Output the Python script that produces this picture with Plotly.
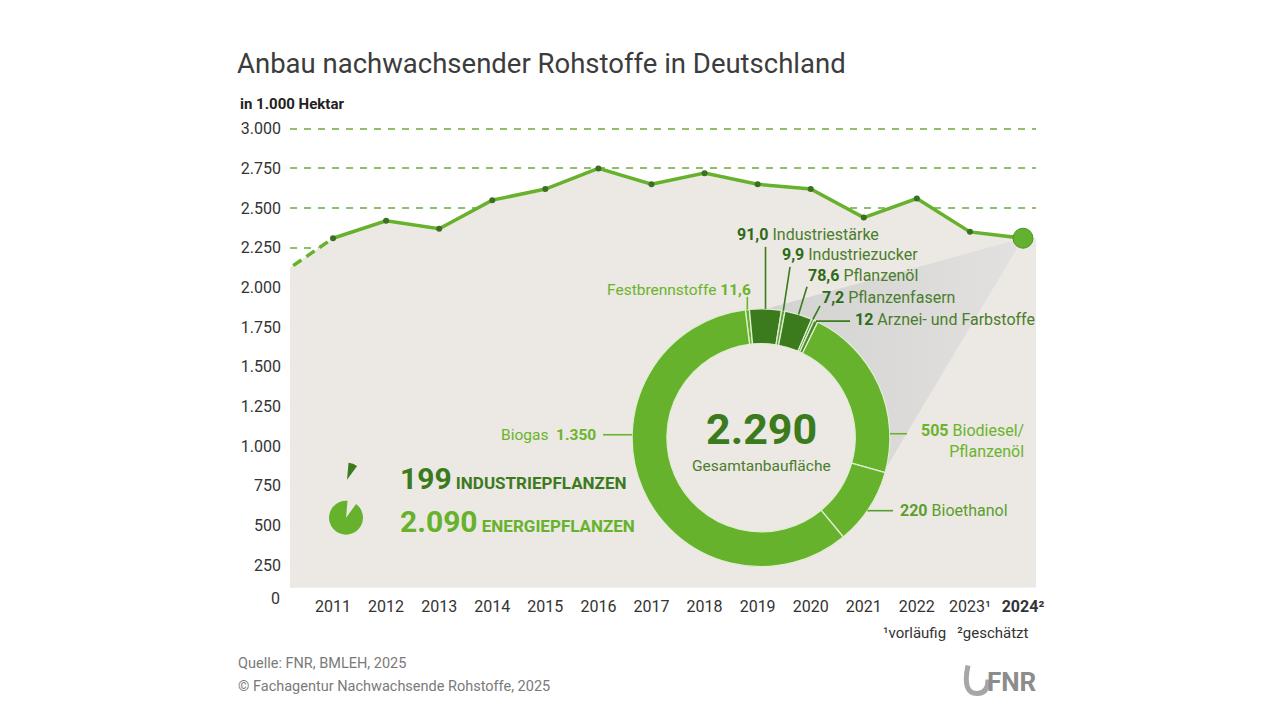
import numpy as np
import plotly.graph_objects as go

W, H = 1280, 720

# ---------------- data ----------------
years = [2010, 2011, 2012, 2013, 2014, 2015, 2016, 2017, 2018, 2019, 2020, 2021, 2022, 2023, 2024]
area = [2080, 2310, 2420, 2370, 2550, 2620, 2750, 2650, 2720, 2650, 2620, 2440, 2560, 2350, 2310]
year_labels = ["2011", "2012", "2013", "2014", "2015", "2016", "2017", "2018", "2019",
               "2020", "2021", "2022", "2023¹", "<b>2024²</b>"]
y_ticks = [250, 500, 750, 1000, 1250, 1500, 1750, 2000, 2250, 2500, 2750, 3000]
y_tick_labels = ["250", "500", "750", "1.000", "1.250", "1.500", "1.750", "2.000",
                 "2.250", "2.500", "2.750", "3.000"]

seg_names = ["Festbrennstoffe", "Industriestärke", "Industriezucker", "Pflanzenöl",
             "Pflanzenfasern", "Arznei- und Farbstoffe", "Biodiesel/Pflanzenöl",
             "Bioethanol", "Biogas"]
seg_values = [11.6, 91.0, 9.9, 78.6, 7.2, 12, 505, 220, 1350]
seg_value_labels = ["11,6", "91,0", "9,9", "78,6", "7,2", "12", "505", "220", "1.350"]
total_label = "2.290"
group_names = ["INDUSTRIEPFLANZEN", "ENERGIEPFLANZEN"]
group_values = [199, 2090]
group_value_labels = ["199", "2.090"]

# ---------------- style ----------------
FONT = "Roboto, 'Liberation Sans', sans-serif"
GREEN = "#66b22c"
LGREEN_TXT = "#6ab42d"
DGREEN = "#3b7a1d"
DGREEN_TXT = "#4a7d2c"
TAN = "#ece8e3"

# screen placement of the figure (empirical: page margin + capture scale)
S = 1280 / 1288
OX, OY, CY_OFF = 8, 8, 4

# plot area in screen pixels
PX_L, PX_R, PX_T, PX_B = 290, 1036, 123, 587
X_RANGE = [2010.19, 2024.245]
Y_RANGE = [108, 3030]


def px2x(px):
    return (px / S - OX) / W


def py2y(py):
    return 1 - ((py - CY_OFF) / S - OY) / H


def data_to_px(xv, yv):
    xp = PX_L + (xv - X_RANGE[0]) / (X_RANGE[1] - X_RANGE[0]) * (PX_R - PX_L)
    yp = PX_B - (yv - Y_RANGE[0]) / (Y_RANGE[1] - Y_RANGE[0]) * (PX_B - PX_T)
    return xp, yp


def px_to_data(xp, yp):
    xv = X_RANGE[0] + (xp - PX_L) / (PX_R - PX_L) * (X_RANGE[1] - X_RANGE[0])
    yv = Y_RANGE[0] + (PX_B - yp) / (PX_B - PX_T) * (Y_RANGE[1] - Y_RANGE[0])
    return xv, yv


# donut geometry (screen pixels)
CX, CY, R = 761, 437, 129
HOLE = 0.73
ROT = -7

fig = go.Figure()

# tan area
fig.add_trace(go.Scatter(x=years, y=area, mode="none", fill="tozeroy",
                         fillcolor=TAN, hoverinfo="skip", showlegend=False))

# grey cone from last point to donut
P = np.array(data_to_px(years[-1], area[-1]))
C = np.array([CX, CY])
rc = R - 6
d = P - C
dist = np.hypot(*d)
base = np.arctan2(d[1], d[0])
alpha = np.arccos(rc / dist)
angs = np.linspace(base - alpha, base + alpha, 40)
poly_px = [P] + [C + rc * np.array([np.cos(a), np.sin(a)]) for a in angs] + [P]
cone_x, cone_y = zip(*[px_to_data(p[0], p[1]) for p in poly_px])
fig.add_trace(go.Scatter(x=list(cone_x), y=list(cone_y), mode="none", fill="toself",
                         fillgradient=dict(type="horizontal",
                                           colorscale=[[0, "#d0d0d0"], [1, "#e2e1df"]]),
                         hoverinfo="skip", showlegend=False))

# dashed lead-in segment
fig.add_trace(go.Scatter(x=years[:2], y=area[:2], mode="lines",
                         line=dict(color=GREEN, width=3.5, dash="10px,6px"),
                         hoverinfo="skip", showlegend=False))
# main line
fig.add_trace(go.Scatter(x=years[1:], y=area[1:], mode="lines+markers",
                         line=dict(color=GREEN, width=3.5),
                         marker=dict(size=6, color="#3d6e22"),
                         hoverinfo="skip", showlegend=False))
# last point
fig.add_trace(go.Scatter(x=[years[-1]], y=[area[-1]], mode="markers",
                         marker=dict(size=20, color="#62b22f", line=dict(color="#4f9326", width=1)),
                         hoverinfo="skip", showlegend=False, cliponaxis=False))

# donut
seg_colors = [GREEN, DGREEN, "#5f9e36", DGREEN, "#4a8a26", "#4a8a26", GREEN, GREEN, GREEN]
fig.add_trace(go.Pie(values=seg_values, labels=seg_names, sort=False, direction="clockwise",
                     rotation=ROT, hole=HOLE, textinfo="none", hoverinfo="skip",
                     marker=dict(colors=seg_colors, line=dict(color="#dfeed2", width=1.3)),
                     domain=dict(x=[px2x(CX - R), px2x(CX + R)], y=[py2y(CY + R), py2y(CY - R)]),
                     showlegend=False))


# icons
def icon(cx, cy, r, colors):
    return go.Pie(values=group_values, labels=group_names, sort=False, direction="clockwise",
                  rotation=5, textinfo="none", hoverinfo="skip", showlegend=False,
                  marker=dict(colors=colors, line=dict(width=0)),
                  domain=dict(x=[px2x(cx - r), px2x(cx + r)], y=[py2y(cy + r), py2y(cy - r)]))


fig.add_trace(icon(347, 479, 17, [DGREEN, "rgba(0,0,0,0)"]))
fig.add_trace(icon(346, 517, 17, ["rgba(0,0,0,0)", GREEN]))

# ---------------- annotations ----------------
ann = []


def text(x, y, s, size=15, color="#333", xanchor="left", yanchor="middle", align="left", family=FONT):
    ann.append(dict(x=px2x(x), y=py2y(y), xref="paper", yref="paper", text=s, showarrow=False,
                    xanchor=xanchor, yanchor=yanchor, align=align,
                    font=dict(size=size, color=color, family=family)))


text(235, 62, "Anbau nachwachsender Rohstoffe in Deutschland", size=27.5, color="#3c3c3c")
text(238, 103, "<b>in 1.000 Hektar</b>", size=15, color="#222")
text(282, 598, "0", size=16, color="#333", xanchor="right")

# center
text(CX, 428, "<b>" + total_label + "</b>", size=43, color=DGREEN, xanchor="center")
text(CX, 465, "Gesamtanbaufläche", size=15.5, color=DGREEN_TXT, xanchor="center")

# slice angles
vals = np.array(seg_values, dtype=float)
cum = np.concatenate([[0], np.cumsum(vals)])
mid_deg = ROT + (cum[:-1] + vals / 2) / vals.sum() * 360


def ring_pt(deg, r=R):
    a = np.radians(deg)
    return CX + r * np.sin(a), CY - r * np.cos(a)


shapes = []


def line(x0, y0, x1, y1, color):
    shapes.append(dict(type="line", xref="paper", yref="paper", x0=px2x(x0), y0=py2y(y0),
                       x1=px2x(x1), y1=py2y(y1), line=dict(color=color, width=1.6)))


NUMC = "#2f6b16"


def ind_label(i, x, y):
    text(x, y, f"<b><span style='color:{NUMC}'>{seg_value_labels[i]}</span></b> {seg_names[i]}",
         size=16, color=DGREEN_TXT)


# Festbrennstoffe
fx, fy = ring_pt(mid_deg[0])
line(fx, fy, fx, 296, LGREEN_TXT)
text(753, 289, f"Festbrennstoffe <b>{seg_value_labels[0]}</b>", size=15.5, color=LGREEN_TXT, xanchor="right")
# Industriestärke
x1, y1 = ring_pt(mid_deg[1])
line(x1, y1, x1, 246, DGREEN)
ind_label(1, 735, 234)
# Industriezucker
x2, y2 = ring_pt(mid_deg[2])
line(x2, y2, 790, 266, DGREEN)
ind_label(2, 780, 254)
# Pflanzenöl
x3, y3 = ring_pt(mid_deg[3])
line(x3, y3, 807, 286, DGREEN)
ind_label(3, 806, 275)
# Pflanzenfasern
x4, y4 = ring_pt(mid_deg[4])
line(x4, y4, 820, 305, DGREEN)
ind_label(4, 820, 297)
# Arznei
x5, y5 = ring_pt(mid_deg[5])
line(x5, y5, 850, y5, DGREEN)
ind_label(5, 853, 319)


def ring_x(y, side):
    return CX + side * np.sqrt(R ** 2 - (y - CY) ** 2)


# Biodiesel
line(ring_x(433, 1), 433, 907, 433, LGREEN_TXT)
text(1027, 440, f"<b>{seg_value_labels[6]}</b> Biodiesel/<br>Pflanzenöl", size=16,
     color=LGREEN_TXT, xanchor="right", align="right")
# Bioethanol
line(ring_x(510, 1), 510, 893, 510, "#5a9f2c")
text(898, 510, f"<b>{seg_value_labels[7]}</b> Bioethanol", size=16, color="#5a9f2c")
# Biogas
line(603, 434, ring_x(434, -1), 434, LGREEN_TXT)
text(598, 434, f"Biogas  <b>{seg_value_labels[8]}</b>", size=15.5, color=LGREEN_TXT, xanchor="right")

# group totals
text(398, 478, f"<b><span style='font-size:30px'>{group_value_labels[0]}</span> {group_names[0]}</b>",
     size=17, color=DGREEN)
text(398, 521, f"<b><span style='font-size:30px'>{group_value_labels[1]}</span> {group_names[1]}</b>",
     size=17, color=GREEN)

# footnotes
text(1031, 632, "¹vorläufig   ²geschätzt", size=15, color="#333", xanchor="right")
text(236, 663, "Quelle: FNR, BMLEH, 2025", size=14.5, color="#7a7a7a")
text(236, 686, "© Fachagentur Nachwachsende Rohstoffe, 2025", size=14.5, color="#7a7a7a")
text(1039, 681, "<b>FNR</b>", size=26, color="#8c8c8c", xanchor="right")

# logo swoosh
sw = [(968, 665), (962, 693), (977, 693), (988, 693), (988, 679)]
sp = [(px2x(a), py2y(b)) for a, b in sw]
shapes.append(dict(type="path", xref="paper", yref="paper",
                   path=(f"M {sp[0][0]},{sp[0][1]} Q {sp[1][0]},{sp[1][1]} {sp[2][0]},{sp[2][1]} "
                         f"Q {sp[3][0]},{sp[3][1]} {sp[4][0]},{sp[4][1]}"),
                   line=dict(color="#a6a6a6", width=5)))

# tan continuation to the right edge of the plot after the last year
shapes.append(dict(type="rect", xref="x", yref="y", layer="between",
                   x0=years[-1], x1=X_RANGE[1], y0=Y_RANGE[0], y1=area[-1],
                   fillcolor=TAN, line=dict(width=0)))

fig.update_layout(
    width=W, height=H, autosize=False,
    margin=dict(l=0, r=0, t=0, b=0, pad=0),
    paper_bgcolor="white", plot_bgcolor="white",
    font=dict(family=FONT),
    xaxis=dict(domain=[px2x(PX_L), px2x(PX_R)], range=X_RANGE, showgrid=False, zeroline=False,
               showline=False, tickvals=years[1:], ticktext=year_labels,
               tickfont=dict(size=16, color="#333"), ticklabelstandoff=7, fixedrange=True),
    yaxis=dict(domain=[py2y(PX_B), py2y(PX_T)], range=Y_RANGE, showgrid=True,
               gridcolor="#8fbf6a", griddash="7px,7px", gridwidth=1.5, zeroline=False,
               showline=False, tickvals=y_ticks, ticktext=y_tick_labels,
               tickfont=dict(size=16, color="#333"), ticklabelstandoff=8, fixedrange=True),
    annotations=ann,
    shapes=shapes,
)

fig.write_html("out.html")
